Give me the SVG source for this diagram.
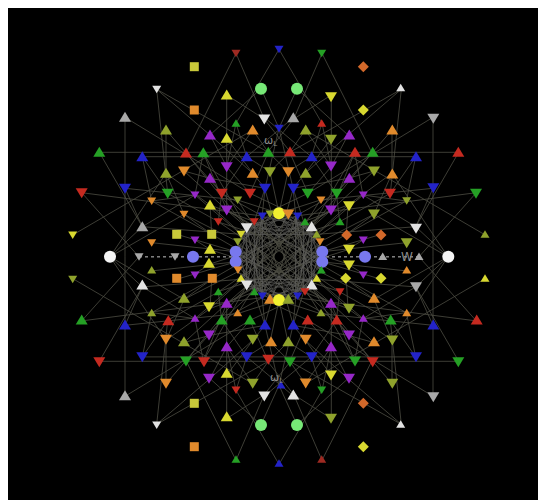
<svg xmlns="http://www.w3.org/2000/svg" xmlns:xlink="http://www.w3.org/1999/xlink" width="538" height="500" viewBox="0 0 538 500">
<style>
.e{stroke:#4d4d42;stroke-width:0.8;fill:none}
.m{stroke:#5e5e5a;stroke-width:0.6;fill:none}
.d{stroke:#8a8a8a;stroke-width:1;stroke-dasharray:3 3;fill:none}
.r{fill:#c52a20}.dr{fill:#9e2a22}.g{fill:#25a025}.b{fill:#2323c8}.o{fill:#e08a2c}.do{fill:#d2682a}
.ol{fill:#8fa22c}.y{fill:#d8d830}.ys{fill:#c8c83a}.p{fill:#9628c8}.gr{fill:#a8a8a8}.w{fill:#e2e2e2}
.lg{fill:#77e877}.lb{fill:#7878ee}.wc{fill:#f4f4f4}.yc{fill:#f0f030}
.t{font-family:"DejaVu Sans",sans-serif;fill:#8c8c8c}
</style>
<defs>
<path id="TU" d="M0,-5.5L6,4.5H-6Z"/>
<path id="TD" d="M0,5.5L6,-4.5H-6Z"/>
<path id="SU" d="M0,-4L4.5,3.5H-4.5Z"/>
<path id="SD" d="M0,4L4.5,-3.5H-4.5Z"/>
<rect id="SQ" x="-4.5" y="-4.5" width="9" height="9"/>
<path id="DM" d="M0,-5.5L5.5,0L0,5.5L-5.5,0Z"/>
<circle id="C" r="6"/>
</defs>
<rect x="0" y="0" width="538" height="500" fill="#ffffff"/>
<rect x="8" y="8" width="530" height="492" fill="#000000"/>
<g id="connectors">
<g id="q">
<line class="e" x1="99.3" y1="152.3" x2="279" y2="152.3"/>
<line class="e" x1="142.3" y1="156.7" x2="279" y2="156.7"/>
<line class="e" x1="125" y1="117.3" x2="125" y2="256.8"/>
<line class="e" x1="226.7" y1="95" x2="226.7" y2="210"/>
<line class="e" x1="166" y1="130" x2="166" y2="173.3"/>
<line class="e" x1="236" y1="53.3" x2="186" y2="153"/>
<line class="e" x1="236" y1="53.3" x2="264.3" y2="119"/>
<line class="e" x1="279" y1="49.3" x2="236" y2="123.3"/>
<line class="e" x1="226.7" y1="95" x2="264.3" y2="119"/>
<line class="e" x1="261" y1="88.7" x2="210" y2="135"/>
<line class="e" x1="261" y1="88.7" x2="279" y2="128.3"/>
<line class="e" x1="156.7" y1="89.3" x2="210" y2="135"/>
<line class="e" x1="156.7" y1="89.3" x2="167.7" y2="193.3"/>
<line class="e" x1="125" y1="117.3" x2="250" y2="193.3"/>
<line class="e" x1="99.3" y1="152.3" x2="142.3" y2="226.7"/>
<line class="e" x1="72.7" y1="235" x2="252.7" y2="130"/>
<line class="e" x1="81.7" y1="192.7" x2="262.3" y2="216"/>
<line class="e" x1="81.7" y1="192.7" x2="139" y2="256.8"/>
<line class="e" x1="125" y1="188.3" x2="237.7" y2="200"/>
<line class="e" x1="156.7" y1="89.3" x2="268.3" y2="152.3"/>
<line class="e" x1="142.3" y1="156.7" x2="167.7" y2="193.3"/>
<line class="e" x1="142.3" y1="156.7" x2="151.7" y2="201"/>
<line class="e" x1="166" y1="130" x2="186" y2="153"/>
<line class="e" x1="203.3" y1="152.7" x2="246.7" y2="227.7"/>
<line class="e" x1="184" y1="171" x2="226.7" y2="210"/>
<line class="e" x1="142.3" y1="226.7" x2="241" y2="234.3"/>
<line class="e" x1="151.7" y1="242.7" x2="235.7" y2="251.7"/>
<line class="e" x1="110" y1="256.8" x2="184" y2="214.3"/>
<line class="e" x1="110" y1="256.8" x2="166" y2="173.3"/>
<line class="e" x1="210" y1="135" x2="252.7" y2="173.3"/>
<line class="e" x1="210" y1="178.3" x2="265" y2="188.3"/>
<line class="e" x1="186" y1="153" x2="221.7" y2="193.3"/>
<line class="e" x1="252.7" y1="130" x2="226.7" y2="166.7"/>
<line class="e" x1="268.3" y1="152.3" x2="250" y2="193.3"/>
<line class="e" x1="246.7" y1="156.7" x2="270" y2="171.7"/>
<line class="e" x1="279" y1="128.3" x2="265" y2="188.3"/>
<line class="e" x1="236" y1="123.3" x2="246.7" y2="156.7"/>
<line class="e" x1="264.3" y1="119" x2="290" y2="151.7"/>
<line class="e" x1="166" y1="173.3" x2="210" y2="205"/>
<line class="e" x1="195" y1="195" x2="241" y2="234.3"/>
<line class="e" x1="151.7" y1="201" x2="211.7" y2="234.3"/>
<line class="e" x1="167.7" y1="193.3" x2="218.3" y2="221.7"/>
<line class="e" x1="184" y1="214.3" x2="237.7" y2="241.7"/>
<line class="e" x1="210" y1="205" x2="254.3" y2="221.7"/>
<line class="e" x1="221.7" y1="193.3" x2="262.3" y2="216"/>
<line class="e" x1="237.7" y1="200" x2="279" y2="213.3"/>
<line class="e" x1="250" y1="193.3" x2="297.7" y2="216"/>
<line class="e" x1="226.7" y1="210" x2="246.7" y2="227.7"/>
<line class="e" x1="186" y1="153" x2="246.7" y2="227.7"/>
<line class="e" x1="203.3" y1="152.7" x2="226.7" y2="210"/>
<line class="e" x1="210" y1="135" x2="226.7" y2="166.7"/>
<line class="e" x1="226.7" y1="138.3" x2="252.7" y2="173.3"/>
<line class="e" x1="246.7" y1="156.7" x2="221.7" y2="193.3"/>
<line class="e" x1="268.3" y1="152.3" x2="288.3" y2="171.7"/>
<line class="e" x1="252.7" y1="130" x2="268.3" y2="152.3"/>
<line class="e" x1="236" y1="123.3" x2="226.7" y2="166.7"/>
<line class="e" x1="293.3" y1="117.7" x2="246.7" y2="156.7"/>
<line class="e" x1="210" y1="178.3" x2="221.7" y2="193.3"/>
<line class="e" x1="226.7" y1="166.7" x2="250" y2="193.3"/>
<line class="e" x1="252.7" y1="173.3" x2="265" y2="188.3"/>
<line class="e" x1="270" y1="171.7" x2="279" y2="213.3"/>
<line class="e" x1="265" y1="188.3" x2="254.3" y2="221.7"/>
<line class="e" x1="221.7" y1="193.3" x2="218.3" y2="221.7"/>
<line class="e" x1="210" y1="205" x2="211.7" y2="234.3"/>
<line class="e" x1="195" y1="240" x2="210" y2="249.3"/>
<line class="e" x1="184" y1="214.3" x2="211.7" y2="234.3"/>
<line class="e" x1="176.7" y1="234.3" x2="235.7" y2="251.7"/>
<line class="e" x1="142.3" y1="226.7" x2="195" y2="195"/>
<line class="e" x1="151.7" y1="201" x2="195" y2="195"/>
<line class="e" x1="125" y1="188.3" x2="142.3" y2="226.7"/>
<line class="e" x1="110" y1="256.8" x2="142.3" y2="226.7"/>
<line class="e" x1="166" y1="173.3" x2="184" y2="214.3"/>
<line class="e" x1="203.3" y1="152.7" x2="195" y2="195"/>
<line class="e" x1="184" y1="171" x2="210" y2="178.3"/>
<line class="e" x1="210" y1="205" x2="305" y2="291.7"/>
<line class="e" x1="226.7" y1="210" x2="321.3" y2="270"/>
<line class="e" x1="209" y1="249.3" x2="340" y2="291.7"/>
<line class="e" x1="237.7" y1="200" x2="297.7" y2="296"/>
<line class="e" x1="218.3" y1="221.7" x2="311.7" y2="285"/>
<line class="e" x1="211.7" y1="234.3" x2="331" y2="303.3"/>
<line class="e" x1="265" y1="188.3" x2="254.3" y2="291.7"/>
<line class="e" x1="221.7" y1="193.3" x2="316.7" y2="278.3"/>
<line class="e" x1="262.3" y1="216" x2="293.3" y2="325"/>
<line class="m" x1="279" y1="213.3" x2="241" y2="234.3"/>
<line class="m" x1="270" y1="214" x2="237.7" y2="241.7"/>
<line class="m" x1="262.3" y1="216" x2="235.7" y2="251.7"/>
<line class="m" x1="254.3" y1="221.7" x2="235.7" y2="261.7"/>
<line class="m" x1="246.7" y1="227.7" x2="238" y2="270"/>
<line class="m" x1="279" y1="213.3" x2="238" y2="270"/>
<line class="m" x1="270" y1="214" x2="241" y2="278.3"/>
<line class="m" x1="262.3" y1="216" x2="246.7" y2="285"/>
<line class="m" x1="254.3" y1="221.7" x2="254.3" y2="291.7"/>
<line class="m" x1="246.7" y1="227.7" x2="262.3" y2="296"/>
<line class="m" x1="270" y1="214" x2="311.7" y2="226.7"/>
<line class="m" x1="254.3" y1="221.7" x2="316.7" y2="234.3"/>
<line class="m" x1="246.7" y1="227.7" x2="246.7" y2="285"/>
<line class="m" x1="262.3" y1="216" x2="262.3" y2="296"/>
<line class="m" x1="241" y1="234.3" x2="316.7" y2="234.3"/>
<line class="m" x1="241" y1="234.3" x2="311.7" y2="226.7"/>
<line class="m" x1="262.3" y1="216" x2="238" y2="270"/>
<line class="m" x1="237.7" y1="241.7" x2="297.7" y2="296"/>
<line class="m" x1="246.7" y1="227.7" x2="288.3" y2="299.3"/>
<line class="m" x1="262.3" y1="216" x2="322.3" y2="261.7"/>
<line class="m" x1="279" y1="213.3" x2="235.7" y2="261.7"/>
<line class="m" x1="241" y1="234.3" x2="279" y2="300"/>
<line class="m" x1="235.7" y1="251.7" x2="305" y2="291.7"/>
<line class="m" x1="246.7" y1="227.7" x2="297.7" y2="216"/>
<line class="m" x1="254.3" y1="221.7" x2="322.3" y2="261.7"/>
<line class="m" x1="237.7" y1="241.7" x2="288.3" y2="214"/>
<line class="d" x1="139" y1="256.8" x2="236" y2="256.8"/>
</g>
<use href="#q" transform="translate(558,0) scale(-1,1)"/>
<use href="#q" transform="translate(0,513.6) scale(1,-1)"/>
<use href="#q" transform="translate(558,513.6) scale(-1,-1)"/>
</g>
<g id="nodes">
<g id="n1" class="ys"><use href="#SQ" x="194.3" y="66.7"/></g>
<g id="n2" class="w"><use href="#SD" x="156.7" y="89.3"/></g>
<g id="n3" class="o"><use href="#SQ" x="194.3" y="110"/></g>
<g id="n4" class="gr"><use href="#TU" x="125" y="117.3"/></g>
<g id="n5" class="ol"><use href="#TU" x="166" y="130"/></g>
<g id="n6" class="r"><use href="#TU" x="186" y="153"/></g>
<g id="n7" class="g"><use href="#TU" x="203.3" y="152.7"/></g>
<g id="n8" class="g"><use href="#TU" x="99.3" y="152.3"/></g>
<g id="n9" class="b"><use href="#TU" x="142.3" y="156.7"/></g>
<g id="n10" class="ol"><use href="#TU" x="166" y="173.3"/></g>
<g id="n11" class="o"><use href="#TD" x="184" y="171"/></g>
<g id="n12" class="b"><use href="#TD" x="125" y="188.3"/></g>
<g id="n13" class="r"><use href="#TD" x="81.7" y="192.7"/></g>
<g id="n14" class="g"><use href="#TD" x="167.7" y="193.3"/></g>
<g id="n15" class="p"><use href="#SD" x="195" y="195"/></g>
<g id="n16" class="o"><use href="#SD" x="151.7" y="201"/></g>
<g id="n17" class="o"><use href="#SD" x="184" y="214.3"/></g>
<g id="n18" class="gr"><use href="#TU" x="142.3" y="226.7"/></g>
<g id="n19" class="ys"><use href="#SQ" x="176.7" y="234.3"/></g>
<g id="n20" class="o"><use href="#SD" x="151.7" y="242.7"/></g>
<g id="n21" class="p"><use href="#SD" x="195" y="240"/></g>
<g id="n22" class="y"><use href="#SD" x="72.7" y="235"/></g>
<g id="n23" class="wc"><use href="#C" x="110" y="256.8"/></g>
<g id="n24" class="gr"><use href="#SD" x="139" y="256.8"/></g>
<g id="n25" class="gr"><use href="#SD" x="175" y="256.8"/></g>
<g id="n26" class="lb"><use href="#C" x="193" y="256.8"/></g>
<g id="n27" class="dr"><use href="#SD" x="236" y="53.3"/></g>
<g id="n28" class="b"><use href="#SD" x="279" y="49.3"/></g>
<g id="n29" class="g"><use href="#SD" x="321.7" y="53.3"/></g>
<g id="n30" class="lg"><use href="#C" x="261" y="88.7"/></g>
<g id="n31" class="lg"><use href="#C" x="297" y="88.7"/></g>
<g id="n32" class="y"><use href="#TU" x="226.7" y="95"/></g>
<g id="n33" class="y"><use href="#TD" x="331" y="96.7"/></g>
<g id="n34" class="w"><use href="#TD" x="264.3" y="119"/></g>
<g id="n35" class="gr"><use href="#TU" x="293.3" y="117.7"/></g>
<g id="n36" class="g"><use href="#SU" x="236" y="123.3"/></g>
<g id="n37" class="o"><use href="#TU" x="252.7" y="130"/></g>
<g id="n38" class="b"><use href="#SD" x="279" y="128.3"/></g>
<g id="n39" class="ol"><use href="#TU" x="305.7" y="130"/></g>
<g id="n40" class="r"><use href="#SU" x="321.7" y="123.3"/></g>
<g id="n41" class="p"><use href="#TU" x="210" y="135"/></g>
<g id="n42" class="p"><use href="#TU" x="349.3" y="135"/></g>
<g id="n43" class="y"><use href="#TU" x="226.7" y="138.3"/></g>
<g id="n44" class="ol"><use href="#TD" x="331" y="139.3"/></g>
<g id="n45" class="g"><use href="#TU" x="268.3" y="152.3"/></g>
<g id="n46" class="r"><use href="#TU" x="290" y="151.7"/></g>
<g id="n47" class="b"><use href="#TU" x="246.7" y="156.7"/></g>
<g id="n48" class="b"><use href="#TU" x="311.7" y="156.7"/></g>
<g id="n49" class="p"><use href="#TD" x="226.7" y="166.7"/></g>
<g id="n50" class="p"><use href="#TD" x="331" y="166"/></g>
<g id="n51" class="p"><use href="#TU" x="210" y="178.3"/></g>
<g id="n52" class="p"><use href="#TU" x="349.3" y="178.3"/></g>
<g id="n53" class="o"><use href="#TU" x="252.7" y="173.3"/></g>
<g id="n54" class="ol"><use href="#TD" x="270" y="171.7"/></g>
<g id="n55" class="o"><use href="#TD" x="288.3" y="171.7"/></g>
<g id="n56" class="ol"><use href="#TU" x="305.7" y="173.3"/></g>
<g id="n57" class="b"><use href="#TD" x="265" y="188.3"/></g>
<g id="n58" class="b"><use href="#TD" x="293.3" y="188.3"/></g>
<g id="n59" class="r"><use href="#TD" x="221.7" y="193.3"/></g>
<g id="n60" class="r"><use href="#TD" x="250" y="193.3"/></g>
<g id="n61" class="g"><use href="#TD" x="307.7" y="193.3"/></g>
<g id="n62" class="g"><use href="#TD" x="336.7" y="193.3"/></g>
<g id="n63" class="ol"><use href="#SD" x="237.7" y="200"/></g>
<g id="n64" class="o"><use href="#SD" x="321" y="200"/></g>
<g id="n65" class="y"><use href="#TU" x="210" y="205"/></g>
<g id="n66" class="p"><use href="#TD" x="226.7" y="210"/></g>
<g id="n67" class="p"><use href="#TD" x="331" y="210"/></g>
<g id="n68" class="y"><use href="#TD" x="349" y="205.7"/></g>
<g id="n69" class="ol"><use href="#SD" x="270" y="214"/></g>
<g id="n70" class="yc"><use href="#C" x="279" y="213.3"/></g>
<g id="n71" class="o"><use href="#TD" x="288.3" y="214"/></g>
<g id="n72" class="b"><use href="#SD" x="262.3" y="216"/></g>
<g id="n73" class="b"><use href="#SD" x="297.7" y="216"/></g>
<g id="n74" class="r"><use href="#SD" x="218.3" y="221.7"/></g>
<g id="n75" class="r"><use href="#SD" x="254.3" y="221.7"/></g>
<g id="n76" class="g"><use href="#SU" x="305" y="221.7"/></g>
<g id="n77" class="g"><use href="#SU" x="340" y="221.7"/></g>
<g id="n78" class="w"><use href="#TD" x="246.7" y="227.7"/></g>
<g id="n79" class="w"><use href="#TU" x="311.7" y="226.7"/></g>
<g id="n80" class="ys"><use href="#SQ" x="211.7" y="234.3"/></g>
<g id="n81" class="y"><use href="#SD" x="241" y="234.3"/></g>
<g id="n82" class="ol"><use href="#SU" x="316.7" y="234.3"/></g>
<g id="n83" class="do"><use href="#DM" x="346.7" y="235"/></g>
<g id="n84" class="ol"><use href="#SD" x="237.7" y="241.7"/></g>
<g id="n85" class="o"><use href="#SD" x="320" y="241.7"/></g>
<g id="n86" class="y"><use href="#TU" x="210" y="249.3"/></g>
<g id="n87" class="lb"><use href="#C" x="235.7" y="251.7"/><use href="#C" x="235.7" y="261.7"/></g>
<g id="n88" class="lb"><use href="#C" x="322.3" y="251.7"/><use href="#C" x="322.3" y="261.7"/></g>
<g id="n89" class="y"><use href="#TD" x="349" y="249.3"/></g>
<g id="n90" class="do"><use href="#DM" x="363.3" y="66.7"/></g>
<g id="n91" class="w"><use href="#SU" x="400.7" y="87.7"/></g>
<g id="n92" class="y"><use href="#DM" x="363.3" y="110"/></g>
<g id="n93" class="gr"><use href="#TD" x="433.3" y="118.3"/></g>
<g id="n94" class="o"><use href="#TU" x="392.3" y="130"/></g>
<g id="n95" class="r"><use href="#TU" x="355" y="152.3"/></g>
<g id="n96" class="g"><use href="#TU" x="372.7" y="152.3"/></g>
<g id="n97" class="b"><use href="#TU" x="416" y="156.7"/></g>
<g id="n98" class="r"><use href="#TU" x="458.3" y="152.3"/></g>
<g id="n99" class="ol"><use href="#TD" x="374" y="171"/></g>
<g id="n100" class="o"><use href="#TU" x="392.3" y="174"/></g>
<g id="n101" class="b"><use href="#TD" x="433.3" y="187.7"/></g>
<g id="n102" class="r"><use href="#TD" x="390" y="193.3"/></g>
<g id="n103" class="p"><use href="#SD" x="363.3" y="195"/></g>
<g id="n104" class="ol"><use href="#SD" x="406.7" y="200.7"/></g>
<g id="n105" class="g"><use href="#TD" x="476" y="193.3"/></g>
<g id="n106" class="ol"><use href="#TD" x="374" y="214"/></g>
<g id="n107" class="w"><use href="#TD" x="416" y="228.3"/></g>
<g id="n108" class="do"><use href="#DM" x="381" y="235"/></g>
<g id="n109" class="ol"><use href="#TD" x="406.7" y="242.7"/></g>
<g id="n110" class="ol"><use href="#SU" x="485" y="234.3"/></g>
<g id="n111" class="p"><use href="#SD" x="363.3" y="240"/></g>
<g id="n112" class="wc"><use href="#C" x="448.3" y="256.8"/></g>
<g id="n113" class="lb"><use href="#C" x="365" y="256.8"/></g>
<g id="n114" class="gr"><use href="#SU" x="382.7" y="256.5"/></g>
<g id="n115" class="gr"><use href="#SU" x="419" y="256.5"/></g>
<g id="n116" class="ol"><use href="#SD" x="72.7" y="279.3"/></g>
<g id="n117" class="ol"><use href="#SU" x="151.7" y="270"/></g>
<g id="n118" class="o"><use href="#SQ" x="176.7" y="278.3"/></g>
<g id="n119" class="p"><use href="#SD" x="195" y="275"/></g>
<g id="n120" class="w"><use href="#TU" x="142.3" y="285"/></g>
<g id="n121" class="ol"><use href="#TU" x="184" y="298.3"/></g>
<g id="n122" class="g"><use href="#TU" x="81.7" y="320"/></g>
<g id="n123" class="b"><use href="#TU" x="125" y="325"/></g>
<g id="n124" class="ol"><use href="#SU" x="151.7" y="312.7"/></g>
<g id="n125" class="r"><use href="#TU" x="168.3" y="320.7"/></g>
<g id="n126" class="p"><use href="#SU" x="195" y="318.3"/></g>
<g id="n127" class="o"><use href="#TD" x="166" y="339.3"/></g>
<g id="n128" class="ol"><use href="#TU" x="184" y="341.7"/></g>
<g id="n129" class="r"><use href="#TD" x="99.3" y="361.7"/></g>
<g id="n130" class="b"><use href="#TD" x="142.3" y="356.7"/></g>
<g id="n131" class="g"><use href="#TD" x="186" y="361"/></g>
<g id="n132" class="r"><use href="#TD" x="204" y="361.7"/></g>
<g id="n133" class="o"><use href="#TD" x="166" y="383.3"/></g>
<g id="n134" class="gr"><use href="#TU" x="125" y="395.7"/></g>
<g id="n135" class="ys"><use href="#SQ" x="194.3" y="403.3"/></g>
<g id="n136" class="w"><use href="#SD" x="156.7" y="425"/></g>
<g id="n137" class="o"><use href="#SQ" x="194.3" y="446.7"/></g>
<g id="n138" class="y"><use href="#TU" x="209" y="263.3"/></g>
<g id="n139" class="y"><use href="#TD" x="349" y="265"/></g>
<g id="n140" class="o"><use href="#SQ" x="212.3" y="278.3"/></g>
<g id="n141" class="y"><use href="#DM" x="345.7" y="278.3"/></g>
<g id="n142" class="y"><use href="#SU" x="241" y="278.3"/></g>
<g id="n143" class="y"><use href="#SU" x="316.7" y="278.3"/></g>
<g id="n144" class="o"><use href="#SD" x="238" y="270"/></g>
<g id="n145" class="g"><use href="#SU" x="321.3" y="270"/></g>
<g id="n146" class="w"><use href="#TD" x="246.7" y="285"/></g>
<g id="n147" class="w"><use href="#TU" x="311.7" y="285"/></g>
<g id="n148" class="g"><use href="#SU" x="218.3" y="291.7"/></g>
<g id="n149" class="g"><use href="#SU" x="254.3" y="291.7"/></g>
<g id="n150" class="r"><use href="#SD" x="305" y="291.7"/></g>
<g id="n151" class="r"><use href="#SD" x="340" y="291.7"/></g>
<g id="n152" class="b"><use href="#SD" x="262.3" y="296"/></g>
<g id="n153" class="b"><use href="#SD" x="297.7" y="296"/></g>
<g id="n154" class="o"><use href="#TU" x="270" y="299.3"/></g>
<g id="n155" class="yc"><use href="#C" x="279" y="300"/></g>
<g id="n156" class="ol"><use href="#TU" x="288.3" y="299.3"/></g>
<g id="n157" class="p"><use href="#TU" x="226.7" y="303.3"/></g>
<g id="n158" class="p"><use href="#TU" x="331" y="303.3"/></g>
<g id="n159" class="y"><use href="#TD" x="209" y="306.7"/></g>
<g id="n160" class="ol"><use href="#TD" x="349" y="308.3"/></g>
<g id="n161" class="o"><use href="#SU" x="237.7" y="312.7"/></g>
<g id="n162" class="ol"><use href="#SU" x="321" y="312.7"/></g>
<g id="n163" class="g"><use href="#TU" x="221.7" y="320"/></g>
<g id="n164" class="g"><use href="#TU" x="250" y="320"/></g>
<g id="n165" class="r"><use href="#TU" x="307.7" y="320"/></g>
<g id="n166" class="r"><use href="#TU" x="336.7" y="320"/></g>
<g id="n167" class="b"><use href="#TU" x="265" y="325"/></g>
<g id="n168" class="b"><use href="#TU" x="293.3" y="325"/></g>
<g id="n169" class="p"><use href="#TD" x="209" y="335"/></g>
<g id="n170" class="p"><use href="#TD" x="349" y="335"/></g>
<g id="n171" class="ol"><use href="#TD" x="252.7" y="339.3"/></g>
<g id="n172" class="o"><use href="#TU" x="271" y="341.7"/></g>
<g id="n173" class="ol"><use href="#TU" x="288.3" y="341.7"/></g>
<g id="n174" class="o"><use href="#TD" x="305.7" y="339.3"/></g>
<g id="n175" class="p"><use href="#TU" x="226.7" y="346.7"/></g>
<g id="n176" class="p"><use href="#TU" x="331" y="346.7"/></g>
<g id="n177" class="b"><use href="#TD" x="246.7" y="356.7"/></g>
<g id="n178" class="r"><use href="#TD" x="268.3" y="359.3"/></g>
<g id="n179" class="g"><use href="#TD" x="290" y="361.7"/></g>
<g id="n180" class="b"><use href="#TD" x="311.7" y="356.7"/></g>
<g id="n181" class="p"><use href="#TD" x="209" y="378.3"/></g>
<g id="n182" class="p"><use href="#TD" x="349" y="378.3"/></g>
<g id="n183" class="y"><use href="#TU" x="226.7" y="373.3"/></g>
<g id="n184" class="y"><use href="#TD" x="331" y="375"/></g>
<g id="n185" class="ol"><use href="#TD" x="252.7" y="383.3"/></g>
<g id="n186" class="o"><use href="#TD" x="305.7" y="383"/></g>
<g id="n187" class="r"><use href="#SD" x="236" y="390"/></g>
<g id="n188" class="g"><use href="#SD" x="321.7" y="390"/></g>
<g id="n189" class="b"><use href="#SU" x="281" y="385"/></g>
<g id="n190" class="w"><use href="#TD" x="264.3" y="396"/></g>
<g id="n191" class="w"><use href="#TU" x="293.3" y="395"/></g>
<g id="n192" class="y"><use href="#TU" x="226.7" y="416.7"/></g>
<g id="n193" class="ol"><use href="#TD" x="331" y="418.3"/></g>
<g id="n194" class="lg"><use href="#C" x="261" y="425"/></g>
<g id="n195" class="lg"><use href="#C" x="297" y="425"/></g>
<g id="n196" class="g"><use href="#SU" x="236" y="459.3"/></g>
<g id="n197" class="b"><use href="#SU" x="279" y="463.3"/></g>
<g id="n198" class="dr"><use href="#SU" x="321.7" y="459.3"/></g>
<g id="n199" class="p"><use href="#SD" x="363.3" y="275"/></g>
<g id="n200" class="y"><use href="#DM" x="381" y="278.3"/></g>
<g id="n201" class="o"><use href="#SU" x="406.7" y="270"/></g>
<g id="n202" class="gr"><use href="#TD" x="416" y="286.7"/></g>
<g id="n203" class="y"><use href="#SU" x="485" y="278.3"/></g>
<g id="n204" class="o"><use href="#TU" x="374" y="298.3"/></g>
<g id="n205" class="o"><use href="#SU" x="406.7" y="312.7"/></g>
<g id="n206" class="p"><use href="#SU" x="363.3" y="318.3"/></g>
<g id="n207" class="g"><use href="#TU" x="390.7" y="320"/></g>
<g id="n208" class="b"><use href="#TU" x="433.3" y="325"/></g>
<g id="n209" class="r"><use href="#TU" x="476.7" y="320"/></g>
<g id="n210" class="o"><use href="#TU" x="374" y="341.7"/></g>
<g id="n211" class="ol"><use href="#TD" x="392.3" y="340"/></g>
<g id="n212" class="g"><use href="#TD" x="355" y="361"/></g>
<g id="n213" class="r"><use href="#TD" x="372.7" y="361.7"/></g>
<g id="n214" class="b"><use href="#TD" x="416" y="356.7"/></g>
<g id="n215" class="g"><use href="#TD" x="458.3" y="361.7"/></g>
<g id="n216" class="ol"><use href="#TD" x="392.3" y="383.3"/></g>
<g id="n217" class="gr"><use href="#TD" x="433.3" y="396.7"/></g>
<g id="n218" class="do"><use href="#DM" x="363.3" y="403.3"/></g>
<g id="n219" class="w"><use href="#SU" x="400.7" y="424.3"/></g>
<g id="n220" class="y"><use href="#DM" x="363.3" y="446.7"/></g>
</g>
<g id="labels">
<text class="t" x="264" y="144" font-size="11">ω<tspan font-size="7" dy="2">L</tspan></text>
<text class="t" x="270" y="381" font-size="11">ω<tspan font-size="7" dy="2">L</tspan></text>
<text class="t" x="401" y="261" font-size="12">W</text>
</g>
</svg>
